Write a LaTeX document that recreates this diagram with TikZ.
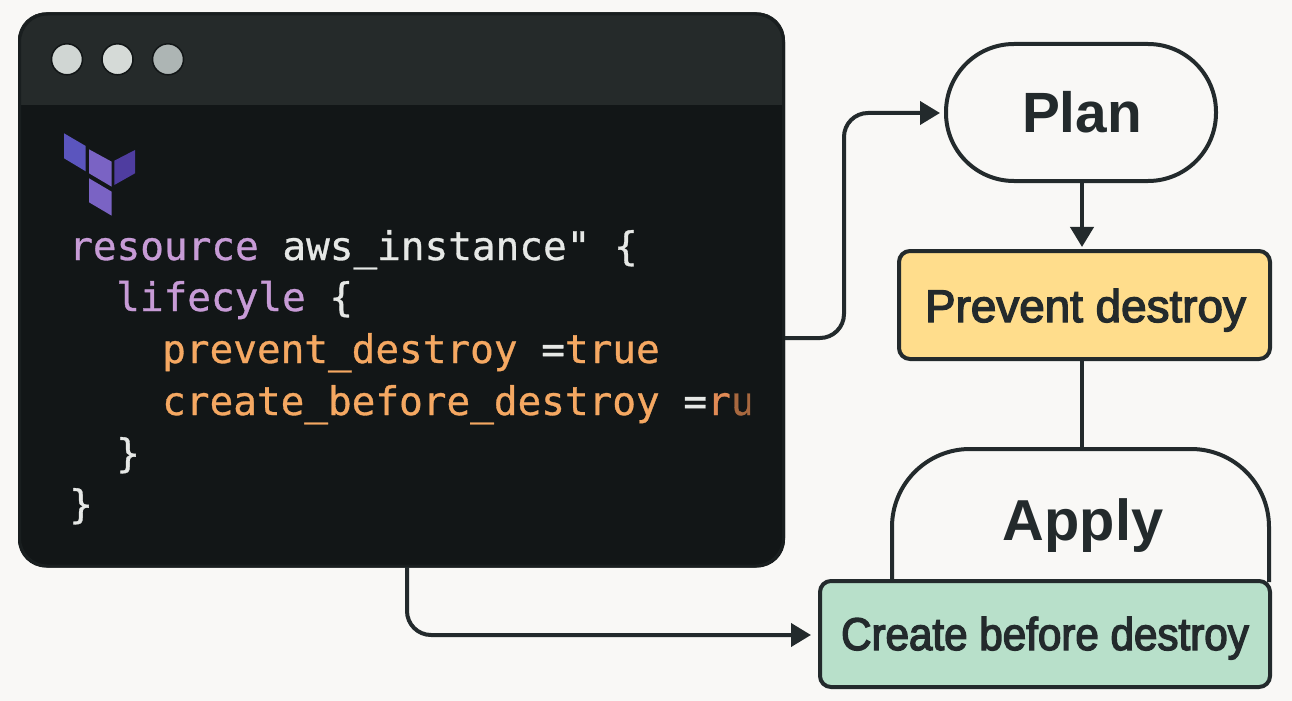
\documentclass[tikz,border=0pt]{standalone}
\usepackage{fontspec}
\setmainfont{Liberation Sans}
\newfontfamily\codefont[FakeBold=0.8]{DejaVu Sans Mono}
\newfontfamily\labA[FakeBold=3]{Liberation Sans}
\newfontfamily\labB[FakeBold=3,FakeStretch=0.92]{Liberation Sans}
\usetikzlibrary{arrows.meta}
\definecolor{bgc}{HTML}{F9F8F6}
\definecolor{ink}{HTML}{232A2C}
\definecolor{winc}{HTML}{121617}
\definecolor{barc}{HTML}{252A2A}
\definecolor{yel}{HTML}{FFDD8C}
\definecolor{grn}{HTML}{B8E0CA}
\definecolor{kw}{HTML}{C79BD6}
\definecolor{attr}{HTML}{F5A862}
\definecolor{plain}{HTML}{E6E8E6}
\definecolor{lgA}{HTML}{5B55BE}
\definecolor{lgB}{HTML}{7A63C4}
\definecolor{lgC}{HTML}{4F3DA0}
\definecolor{rc}{HTML}{E08A55}
\definecolor{uc}{HTML}{A8683F}
\definecolor{dotA}{HTML}{D0D6D3}
\definecolor{dotB}{HTML}{D5DAD7}
\definecolor{dotC}{HTML}{ADB5B4}
\tikzset{
  conn/.style={draw=ink,line width=4bp,rounded corners=24bp},
  tip/.style={-{Triangle[length=20bp,width=23bp]}},
  box/.style={draw=ink,line width=4bp,rounded corners=11bp,inner sep=0pt,outer sep=0pt,anchor=north west},
  code/.style={font=\codefont\fontsize{39.5}{39.5}\selectfont,anchor=base west,inner sep=0pt},
  head/.style={text=ink,inner sep=0pt,anchor=base},
  lab/.style={text=ink,inner sep=0pt,anchor=base},
  dot/.style={circle,draw=winc,line width=1.5bp,minimum size=31bp,inner sep=0pt}
}
\begin{document}
\begin{tikzpicture}[x=1bp,y=-1bp]
\useasboundingbox (0,0) rectangle (1292,701);
\fill[bgc] (0,0) rectangle (1292,701);
% window
\node[box,draw=none,fill=winc,rounded corners=28bp,minimum width=767bp,minimum height=555bp] (window) at (18,12.5) {};
\begin{scope}
\clip[rounded corners=28bp] (18,12.5) rectangle (785,567.5);
\fill[barc] (18,12.5) rectangle (785,105);
\end{scope}
\draw[draw=winc!60!ink,line width=3bp,rounded corners=28bp] (19.5,14) rectangle (783.5,566);
\node[dot,fill=dotA] (d1) at (67,59.3) {};
\node[dot,fill=dotB] (d2) at (117.5,59.3) {};
\node[dot,fill=dotC] (d3) at (168,59.3) {};
% logo
\fill[lgA] (64,133.3) -- (85.7,146) -- (85.7,171.3) -- (64,158.3) -- cycle;
\fill[lgB] (89,149.3) -- (111.7,161.7) -- (111.7,186.7) -- (89,173.3) -- cycle;
\fill[lgC] (114.3,160.7) -- (135,150) -- (135,173.3) -- (114.3,185) -- cycle;
\fill[lgB] (89,178.3) -- (111.7,191.7) -- (111.7,215.7) -- (89,202.3) -- cycle;
% code
\node[code] (l1) at (69,260) {\textcolor{kw}{resource} \textcolor{plain}{aws\_instance" \{}};
\node[code] (l2) at (116,311) {\textcolor{kw}{lifecyle} \textcolor{plain}{\{}};
\node[code] (l3) at (162,363) {\textcolor{attr}{prevent\_destroy} \textcolor{plain}{=}\textcolor{attr}{true}};
\begin{scope}
\clip (100,370) rectangle (750,430);
\node[code] (l4) at (162,415) {\textcolor{attr}{create\_before\_destroy} \textcolor{plain}{=}\textcolor{rc}{r}\textcolor{uc}{u}};
\end{scope}
\node[code] (l5) at (116,467) {\textcolor{plain}{\}}};
\node[code] (l6) at (69,518) {\textcolor{plain}{\}}};
% right nodes
\node[box,fill=bgc,rounded corners=68bp,minimum width=270bp,minimum height=137bp] (plan) at (946,44) {};
\node[head,font=\fontsize{57}{57}\selectfont\bfseries] (plantext) at (1082,133) {Plan};
\node[box,fill=yel,minimum width=371bp,minimum height=108bp] (prev) at (899,251) {};
\node[lab,font=\labA\fontsize{46}{46}\selectfont] (prevtext) at (1085.5,322) {Prevent destroy};
\coordinate (applytop) at (1082,449);
\fill[bgc] (892,582) -- (892,527) arc[start angle=180,end angle=90,radius=78bp] -- (1191,449) arc[start angle=90,end angle=0,radius=78bp] -- (1269,582) -- cycle;
\draw[draw=ink,line width=4bp] (892,582) -- (892,527) arc[start angle=180,end angle=90,radius=78bp] -- (1191,449) arc[start angle=90,end angle=0,radius=78bp] -- (1269,582);
\node[head,font=\fontsize{58}{58}\selectfont\bfseries] (apply) at (1083,540) {Apply};
\node[box,fill=grn,minimum width=450bp,minimum height=106bp] (create) at (820,581) {};
\node[lab,font=\labB\fontsize{46}{46}\selectfont] (createtext) at (1045,650) {Create before destroy};
% connectors
\coordinate (out1) at (785,338);
\coordinate (out2) at (407,567);
\draw[conn,tip,shorten >=6bp] (out1) -- (844,338) -- (844,113) -- (plan.west |- 0,113);
\draw[conn,tip,rounded corners=0pt,shorten >=4bp] (plan.south -| applytop) -- (prev.north -| applytop);
\draw[conn,rounded corners=0pt] (prev.south -| applytop) -- (applytop);
\draw[conn,tip,shorten >=9bp] (out2) -- (407,635) -- (create.west |- 0,635);
\end{tikzpicture}
\end{document}
